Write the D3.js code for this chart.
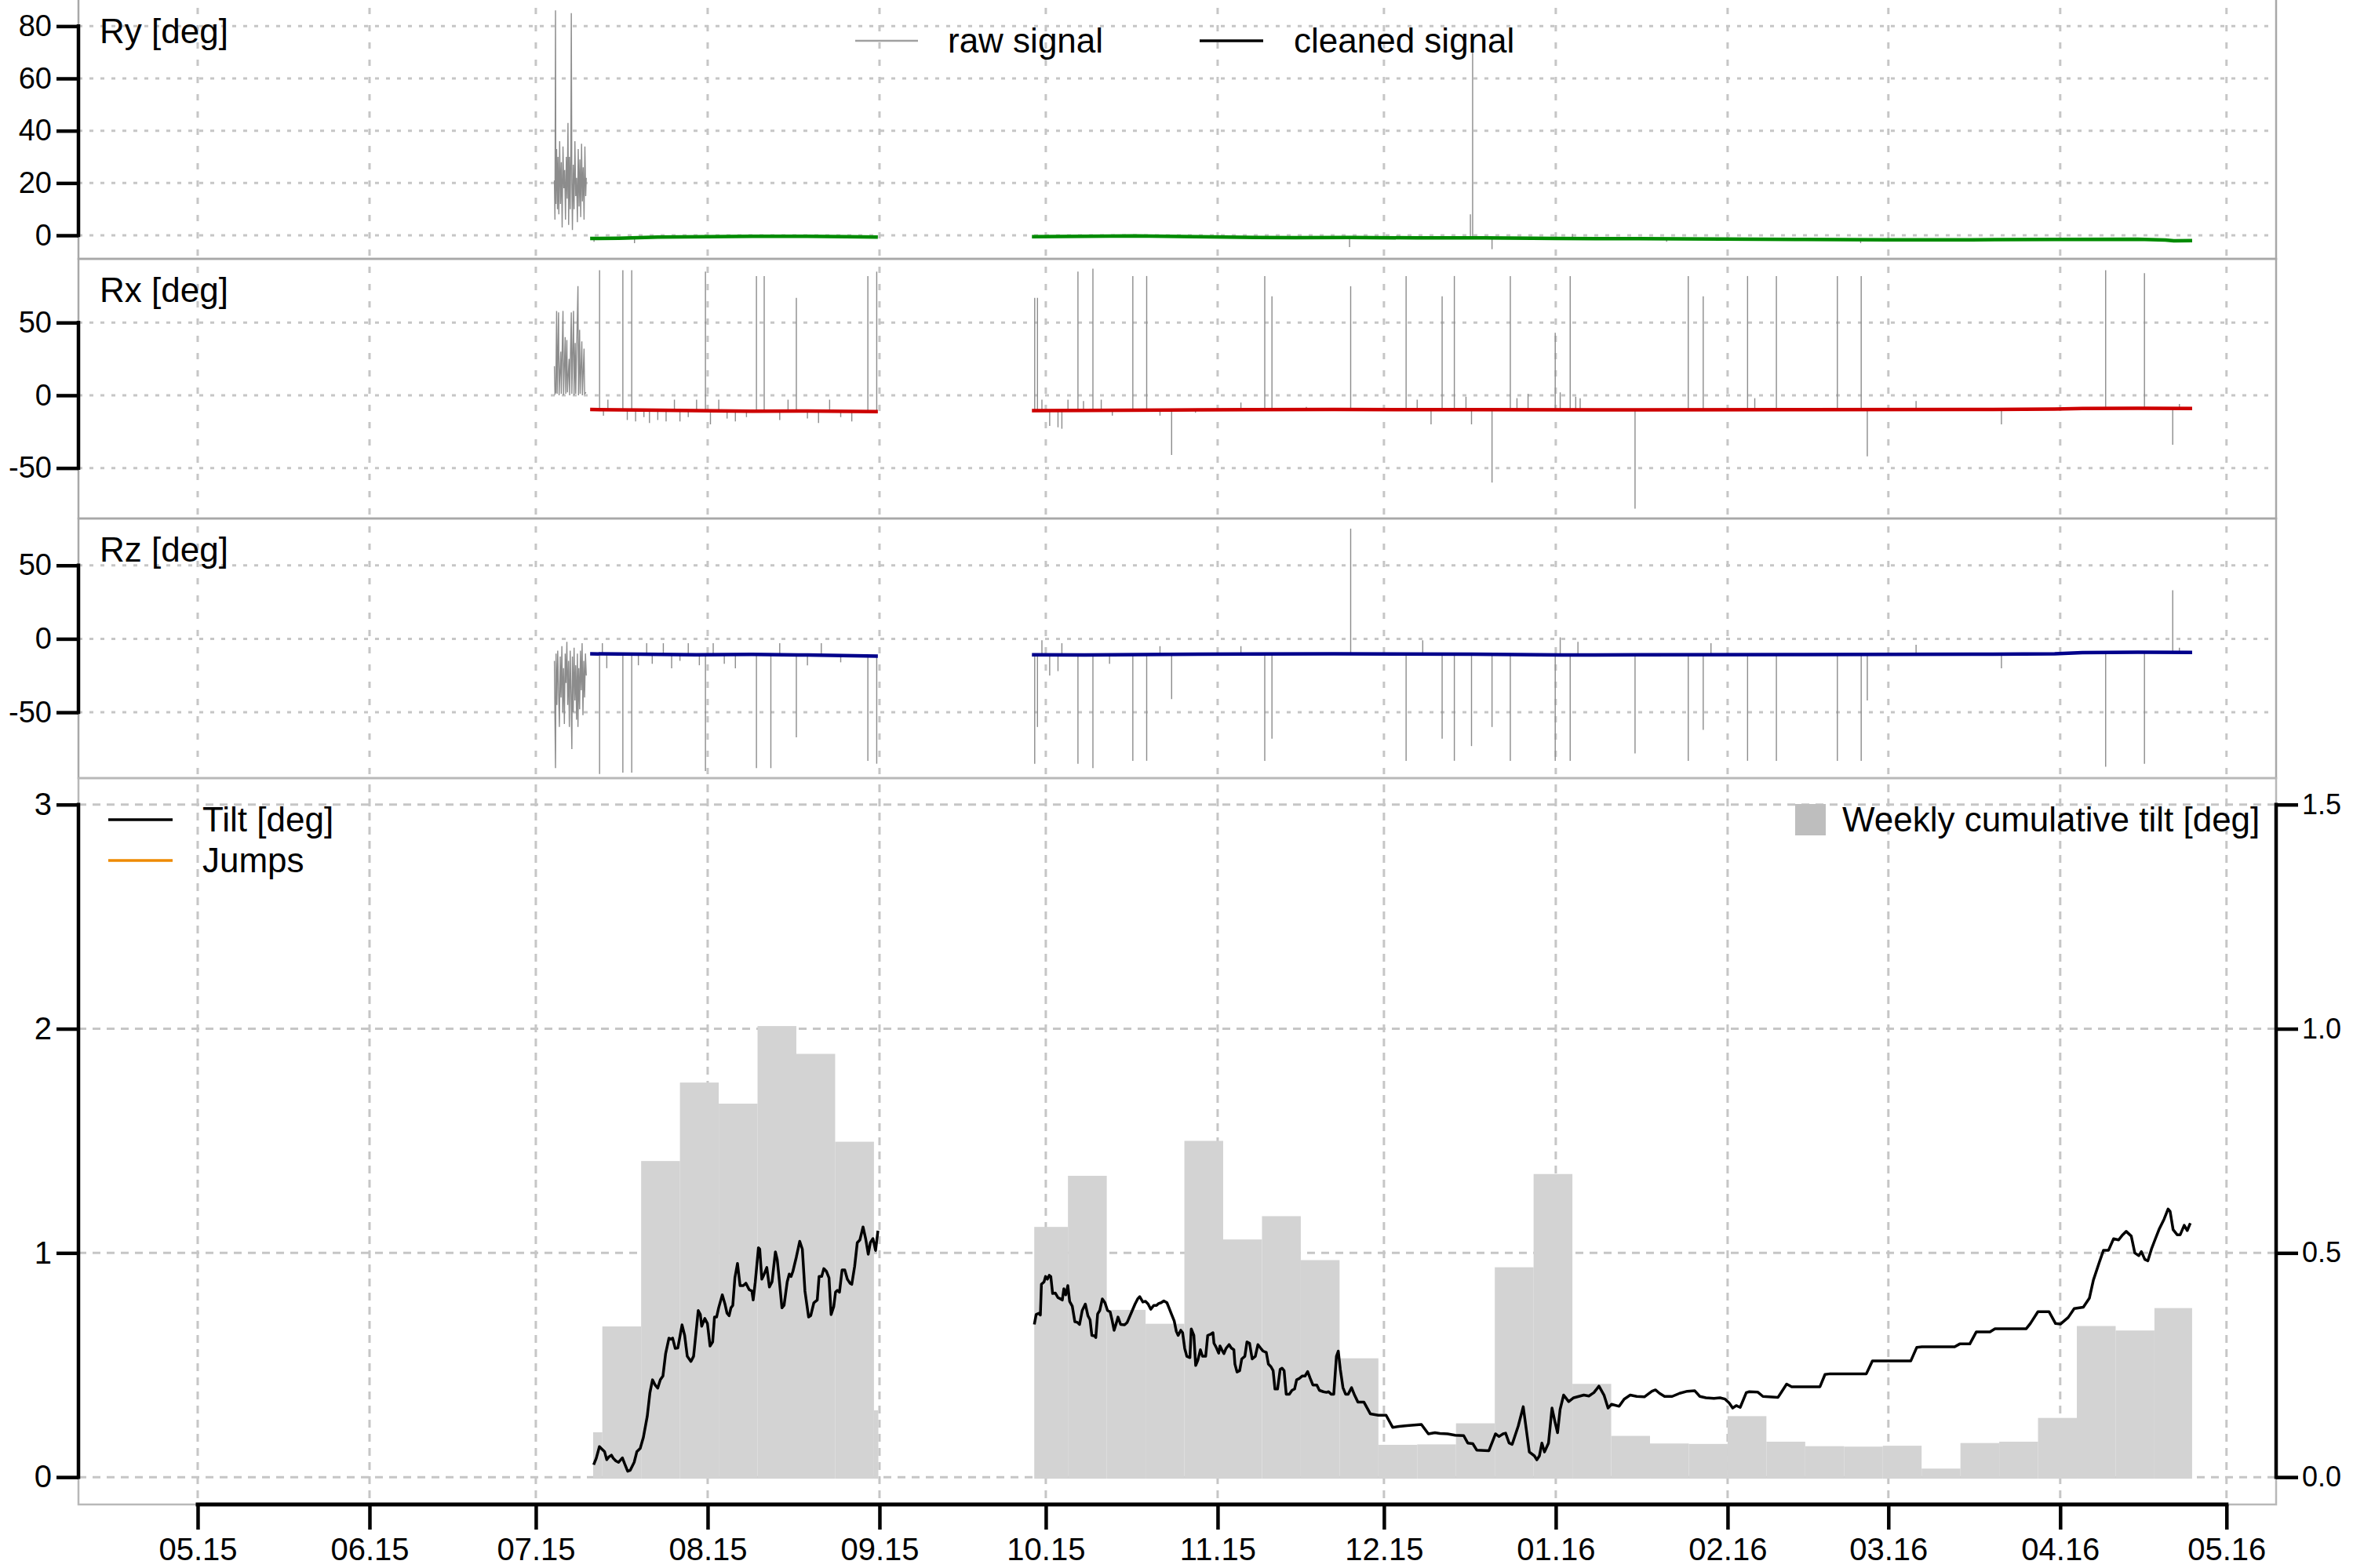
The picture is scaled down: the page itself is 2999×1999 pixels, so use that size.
<!DOCTYPE html>
<html><head><meta charset="utf-8">
<script src="https://cdn.jsdelivr.net/npm/d3@7"></script>
<style>body{margin:0;background:#fff}svg{display:block}text{font-family:"Liberation Sans",Arial,Helvetica,sans-serif}</style>
</head><body><svg id="c" width="2999" height="1999"></svg>
<script>
// ---------- DATA ----------
// time unit: days since 2015-05-01 00:00 UTC (fractional)
const monthTicks = ["2015-05-01","2015-06-01","2015-07-01","2015-08-01","2015-09-01","2015-10-01","2015-11-01","2015-12-01","2016-01-01","2016-02-01","2016-03-01","2016-04-01","2016-05-01"];
const monthLabels = ["05.15","06.15","07.15","08.15","09.15","10.15","11.15","12.15","01.16","02.16","03.16","04.16","05.16"];
const ryTicks = [0,20,40,60,80];
const rxTicks = [-50,0,50];
const rzTicks = [-50,0,50];
const tiltTicks = [0,1,2,3];
const cumTicks = [0,0.5,1.0,1.5];
const cumLabels = ["0.0","0.5","1.0","1.5"];

// raw signal (noisy start)
const ryRawNoise = [[64.35,21],[64.45,6],[64.55,86],[64.62,12],[64.75,33],[64.9,10],[65.0,30],[65.15,8],[65.3,36],[65.45,12],[65.6,28],[65.75,3],[65.9,34],[66.05,18],[66.2,25],[66.35,6],[66.5,30],[66.65,14],[66.8,43],[66.92,4],[67.05,30],[67.2,10],[67.32,34],[67.4,85],[67.5,20],[67.6,2],[67.75,27],[67.9,10],[68.05,36],[68.2,15],[68.35,22],[68.5,5],[68.65,33],[68.8,11],[68.95,29],[69.1,7],[69.25,35],[69.4,13],[69.55,26],[69.7,6],[69.85,34],[70.0,15],[70.1,22]];
const rxRawNoise = [[64.35,20],[64.45,1],[64.6,2],[64.75,58],[64.85,1],[65.1,57],[65.2,0],[65.5,30],[65.6,1],[65.9,58],[66.0,0],[66.3,40],[66.4,1],[66.6,38],[66.7,2],[67.0,25],[67.1,0],[67.4,57],[67.5,1],[67.8,58],[67.9,0],[68.1,36],[68.2,1],[68.6,75],[68.7,0],[68.9,45],[69.0,1],[69.3,37],[69.4,0],[69.7,32],[69.8,1],[70.05,2]];
const rzRawNoise = [[64.35,-15],[64.45,-55],[64.55,-88],[64.65,-10],[64.8,-45],[64.95,-8],[65.1,-35],[65.25,-60],[65.4,-12],[65.55,-40],[65.7,-5],[65.85,-50],[66.0,-20],[66.15,-58],[66.3,-10],[66.45,-30],[66.6,-2],[66.75,-45],[66.9,-15],[67.05,-60],[67.2,-8],[67.35,-38],[67.5,-75],[67.6,-12],[67.75,-50],[67.9,-6],[68.05,-42],[68.2,-18],[68.35,-55],[68.5,-10],[68.6,-60],[68.75,-20],[68.9,-48],[69.05,-8],[69.2,-35],[69.35,-3],[69.5,-52],[69.65,-15],[69.8,-40],[69.95,-10],[70.1,-25]];

// raw signal spikes [day, value]
const rySpikes = [[71.5,-2.5],[78.8,-3],[207.8,-4.5],[229.6,8],[230.0,70],[233.5,-5.3],[248,0.5],[265,-2.5],[300,-3],[340,-1]];
const rxSpikes = [[72.5,86],[73.2,-14],[74.0,-3],[76.7,86],[77.5,-17],[78.3,86],[79.0,-18],[80.5,-15],[81.5,-19],[83,-17],[84.5,-18],[86,-3],[87,-18],[88.5,-15],[90,-3],[91.6,85],[92.5,-20],[94,-3],[95.5,-16],[97,-18],[99,-15],[100.8,82],[102.2,82],[105,-17],[106.5,-3],[108.0,67],[110,-16],[112,-19],[114,-3],[116,-15],[118,-18],[120.9,82],[122.5,85],
 [151.0,67],[151.5,67],[152.3,-3],[153.7,-21],[155.2,-22],[155.9,-23],[157,-3],[158.8,85],[159.8,-4],[161.5,87],[163,-3],[165,-14],[168.7,82],[171.2,82],[173.6,-14],[175.7,-41],[180,-12],[188.2,-5],[192.5,82],[193.8,68],[200,-8],[208.0,75],[218.0,82],[220,-3],[222.5,-20],[224.5,68],[226.7,82],[228.8,-1],[229.8,-20],[233.5,-60],[236.8,82],[238,-2],[240,1],[244.9,43],[245.8,2],[247.6,82],[248.6,-1],[249.4,-2],[259.3,-78],[268.9,82],[271.6,68],[279.6,82],[280.9,-2],[284.8,82],[295.8,82],[300.1,82],[301.2,-42],[310,-4],[325.4,-20],[344.2,86],[351.2,84],[356.3,-34],[357.5,-6]];
const rzSpikes = [[72.5,-92],[73.0,-3],[73.8,-20],[76.7,-91],[78.3,-91],[79.5,-18],[81,-3],[82,-17],[84,-3],[85.5,-20],[87,-15],[88.5,-3],[90.5,-18],[91.6,-90],[93,-3],[95,-17],[97,-20],[100.8,-88],[103.4,-88],[105,-3],[108.0,-67],[110,-18],[112.5,-3],[116,-16],[120.9,-83],[122.5,-85],
 [151.0,-85],[151.5,-60],[152.3,-1],[153.7,-25],[155.2,-22],[155.9,-3],[158.8,-85],[161.5,-88],[164.5,-17],[168.7,-83],[171.2,-83],[173.6,-5],[175.7,-41],[188.2,-5],[192.5,-83],[193.8,-68],[208.0,75],[218.0,-83],[221,-1],[224.5,-68],[226.7,-83],[229.8,-73],[233.5,-60],[236.8,-83],[244.9,-83],[245.8,1],[247.6,-83],[249,-2],[259.3,-78],[268.9,-83],[271.6,-62],[273,-3],[279.6,-83],[284.8,-83],[295.8,-83],[300.1,-83],[301.2,-42],[310,-4],[325.4,-20],[344.2,-87],[351.2,-85],[356.3,33],[357.5,-6]];

// cleaned signals (two segments each)
const ryClean = [[[70.8,-1.2],[76,-1.1],[83,-0.7],[92,-0.5],[100,-0.4],[110,-0.4],[117,-0.5],[122.7,-0.7]],
 [[150.5,-0.5],[160,-0.4],[169,-0.2],[180,-0.5],[191,-0.8],[198,-0.9],[208,-0.8],[220,-1.0],[232,-1.0],[245,-1.2],[260,-1.3],[275,-1.4],[290,-1.6],[305,-1.7],[320,-1.7],[335,-1.6],[350,-1.5],[355,-1.8],[356.5,-2.1],[359.8,-2.0]]];
const rxClean = [[[70.8,-9.8],[80,-10.2],[90,-10.5],[100,-11],[110,-10.8],[122.7,-11.2]],
 [[150.5,-10.5],[160,-10.4],[175,-10.1],[190,-9.9],[205,-9.8],[230,-9.9],[260,-10],[290,-9.9],[320,-9.8],[335,-9.5],[340,-9.1],[350,-8.9],[359.8,-9.0]]];
const rzClean = [[[70.8,-10.2],[80,-10.5],[90,-10.8],[100,-10.6],[110,-11],[122.7,-11.8]],
 [[150.5,-10.8],[160,-11],[175,-10.6],[190,-10.3],[205,-10.2],[230,-10.4],[246,-11],[260,-10.9],[290,-10.7],[320,-10.5],[335,-10.2],[340,-9.4],[350,-9.1],[359.8,-9.2]]];

// tilt [deg]
const tilt1 = [[71.43,0.055],[71.90,0.084],[72.47,0.136],[73.08,0.121],[73.41,0.113],[73.79,0.078],[74.17,0.090],[74.64,0.098],[74.97,0.084],[75.44,0.072],[75.91,0.066],[76.24,0.075],[76.62,0.086],[77.00,0.061],[77.57,0.026],[78.04,0.031],[78.74,0.066],[79.22,0.113],[79.83,0.128],[80.40,0.177],[81.10,0.271],[81.58,0.376],[82.05,0.434],[82.52,0.411],[82.99,0.397],[83.46,0.434],[83.93,0.451],[84.41,0.550],[85.02,0.620],[85.35,0.615],[85.68,0.620],[86.15,0.574],[86.62,0.576],[87.38,0.679],[87.85,0.632],[88.32,0.539],[88.98,0.516],[89.46,0.539],[90.30,0.743],[90.68,0.725],[90.92,0.673],[91.48,0.708],[91.96,0.685],[92.43,0.585],[92.90,0.603],[93.23,0.714],[93.61,0.714],[93.98,0.755],[94.64,0.813],[95.12,0.772],[95.49,0.731],[95.87,0.720],[96.20,0.755],[96.53,0.766],[96.91,0.889],[97.38,0.953],[97.85,0.854],[98.42,0.854],[98.89,0.865],[99.50,0.836],[99.98,0.830],[100.21,0.790],[100.59,0.871],[101.16,1.023],[101.39,1.017],[101.77,0.883],[102.10,0.900],[102.67,0.935],[103.14,0.848],[103.61,0.871],[104.22,1.005],[104.55,0.970],[104.93,0.877],[105.40,0.755],[105.78,0.766],[106.35,0.871],[106.72,0.906],[107.05,0.895],[107.38,0.918],[108.00,0.982],[108.61,1.052],[109.08,1.017],[109.55,0.830],[110.21,0.714],[110.59,0.720],[111.16,0.778],[111.77,0.790],[112.10,0.895],[112.57,0.895],[112.95,0.930],[113.42,0.918],[113.89,0.889],[114.27,0.725],[114.74,0.760],[115.07,0.825],[115.40,0.833],[115.78,0.825],[116.25,0.924],[116.73,0.924],[117.20,0.883],[117.67,0.865],[118.00,0.860],[118.52,0.941],[118.99,1.046],[119.46,1.058],[120.03,1.116],[120.50,1.064],[120.97,0.994],[121.35,1.046],[121.82,1.064],[122.29,1.011],[122.72,1.099]];
const tilt2 = [[150.93,0.681],[151.26,0.725],[151.73,0.731],[152.02,0.723],[152.21,0.860],[152.68,0.871],[152.96,0.895],[153.29,0.883],[153.62,0.900],[153.90,0.895],[154.23,0.819],[154.71,0.821],[155.18,0.801],[155.65,0.795],[155.98,0.790],[156.26,0.840],[156.59,0.813],[156.97,0.854],[157.30,0.784],[157.77,0.763],[158.24,0.693],[158.72,0.690],[159.09,0.681],[159.57,0.743],[160.13,0.772],[160.60,0.720],[160.98,0.702],[161.31,0.632],[161.78,0.630],[162.02,0.623],[162.35,0.728],[162.73,0.743],[163.20,0.795],[163.67,0.778],[164.14,0.743],[164.61,0.737],[164.94,0.702],[165.32,0.655],[165.70,0.685],[166.03,0.714],[166.50,0.681],[167.21,0.679],[167.68,0.690],[168.39,0.731],[169.10,0.772],[169.57,0.795],[169.95,0.805],[170.51,0.781],[170.98,0.784],[171.46,0.772],[171.93,0.749],[172.49,0.766],[172.97,0.766],[173.34,0.774],[173.81,0.778],[174.29,0.786],[174.85,0.778],[175.23,0.755],[175.70,0.725],[176.17,0.696],[176.55,0.650],[176.88,0.632],[177.35,0.655],[177.68,0.644],[178.06,0.574],[178.44,0.539],[179.00,0.533],[179.24,0.661],[179.71,0.632],[180.04,0.498],[180.42,0.521],[180.89,0.568],[181.27,0.539],[181.84,0.539],[182.21,0.632],[182.78,0.638],[183.16,0.644],[183.34,0.597],[183.72,0.580],[184.19,0.553],[184.43,0.585],[184.76,0.568],[185.14,0.551],[185.51,0.574],[186.08,0.591],[186.46,0.576],[186.93,0.568],[187.12,0.504],[187.50,0.469],[187.97,0.475],[188.35,0.527],[188.91,0.539],[189.29,0.603],[189.76,0.597],[190.23,0.527],[190.80,0.539],[191.27,0.591],[191.74,0.576],[192.21,0.562],[192.78,0.556],[193.16,0.504],[193.63,0.492],[194.01,0.475],[194.34,0.393],[194.81,0.393],[195.28,0.481],[195.61,0.486],[195.99,0.475],[196.37,0.370],[196.93,0.370],[197.41,0.387],[197.88,0.393],[198.25,0.434],[198.73,0.440],[199.29,0.451],[199.76,0.451],[200.24,0.471],[200.71,0.440],[201.18,0.411],[201.89,0.411],[202.36,0.387],[203.07,0.381],[203.63,0.378],[204.01,0.381],[204.48,0.370],[204.95,0.370],[205.43,0.539],[205.76,0.562],[206.13,0.481],[206.61,0.399],[207.08,0.370],[207.55,0.370],[208.16,0.399],[208.73,0.364],[209.30,0.335],[210.38,0.335],[211.56,0.282],[212.98,0.276],[214.39,0.276],[215.57,0.222],[216.75,0.226],[218.16,0.230],[220.76,0.235],[222.02,0.193],[223.20,0.198],[224.11,0.195],[225.48,0.193],[226.84,0.187],[228.39,0.185],[229.12,0.152],[230.03,0.149],[230.76,0.120],[232.94,0.118],[234.13,0.193],[234.76,0.181],[235.49,0.193],[235.95,0.196],[236.58,0.152],[237.13,0.146],[238.22,0.227],[239.13,0.314],[240.23,0.112],[241.14,0.095],[241.59,0.077],[242.05,0.095],[242.50,0.152],[242.96,0.112],[243.69,0.152],[244.32,0.308],[244.87,0.245],[245.32,0.198],[245.78,0.302],[246.42,0.366],[247.33,0.337],[248.23,0.354],[249.15,0.360],[250.06,0.366],[250.97,0.362],[251.88,0.377],[252.79,0.406],[253.70,0.366],[254.43,0.308],[255.06,0.325],[256.43,0.316],[257.34,0.348],[258.43,0.366],[259.61,0.360],[260.98,0.358],[262.35,0.383],[262.98,0.389],[263.71,0.374],[264.62,0.360],[265.99,0.360],[267.35,0.374],[268.72,0.383],[270.08,0.385],[270.99,0.360],[272.08,0.354],[273.54,0.351],[274.63,0.354],[275.54,0.348],[276.27,0.331],[276.91,0.308],[277.55,0.319],[278.27,0.311],[279.37,0.377],[279.91,0.381],[281.46,0.379],[282.37,0.360],[285.10,0.356],[286.65,0.415],[287.56,0.403],[292.66,0.403],[293.57,0.458],[294.48,0.461],[301.03,0.461],[302.12,0.518],[309.04,0.518],[310.13,0.579],[311.04,0.581],[316.96,0.581],[317.87,0.594],[319.69,0.594],[320.87,0.648],[323.33,0.648],[324.24,0.662],[329.88,0.662],[330.61,0.685],[331.98,0.738],[333.98,0.738],[335.16,0.685],[336.07,0.683],[337.44,0.712],[338.53,0.752],[340.17,0.758],[341.26,0.798],[341.99,0.879],[343.08,0.960],[343.81,1.012],[344.72,1.012],[345.63,1.063],[346.54,1.058],[347.27,1.081],[347.91,1.096],[348.82,1.075],[349.46,1.000],[350.18,0.988],[350.64,1.006],[351.27,0.971],[351.82,0.965],[352.46,1.017],[353.09,1.058],[353.82,1.104],[354.73,1.150],[355.46,1.196],[355.83,1.185],[356.37,1.104],[357.10,1.081],[357.65,1.081],[358.37,1.123],[358.92,1.100],[359.47,1.133]];

// weekly cumulative tilt [deg]
const barStart = ["2015-07-11T08:00Z","2015-07-13","2015-07-20","2015-07-27","2015-08-03","2015-08-10","2015-08-17","2015-08-24","2015-08-31",
 "2015-09-28T22:00Z","2015-10-05","2015-10-12","2015-10-19","2015-10-26","2015-11-02","2015-11-09","2015-11-16","2015-11-23","2015-11-30","2015-12-07","2015-12-14","2015-12-21","2015-12-28","2016-01-04","2016-01-11","2016-01-18","2016-01-25","2016-02-01","2016-02-08","2016-02-15","2016-02-22","2016-02-29","2016-03-07","2016-03-14","2016-03-21","2016-03-28","2016-04-04","2016-04-11","2016-04-18"];
const barEnd = ["2015-07-13","2015-07-20","2015-07-27","2015-08-03","2015-08-10","2015-08-17","2015-08-24","2015-08-31","2015-08-31T19:00Z",
 "2015-10-05","2015-10-12","2015-10-19","2015-10-26","2015-11-02","2015-11-09","2015-11-16","2015-11-23","2015-11-30","2015-12-07","2015-12-14","2015-12-21","2015-12-28","2016-01-04","2016-01-11","2016-01-18","2016-01-25","2016-02-01","2016-02-08","2016-02-15","2016-02-22","2016-02-29","2016-03-07","2016-03-14","2016-03-21","2016-03-28","2016-04-04","2016-04-11","2016-04-18","2016-04-24T19:00Z"];
const barVals = [0.10,0.336,0.705,0.88,0.833,1.006,0.944,0.748,0.149,
 0.558,0.672,0.373,0.342,0.75,0.53,0.582,0.484,0.265,0.072,0.073,0.12,0.468,0.676,0.208,0.092,0.075,0.074,0.136,0.079,0.069,0.068,0.07,0.019,0.076,0.079,0.132,0.337,0.327,0.377];

// ---------- DRAWING ----------
const BASE = Date.UTC(2015,4,1);
const T = d => new Date(BASE + d*864e5);
const P = s => new Date(s.length===10 ? s+"T00:00:00Z" : s);
const svg = d3.select("#c");
const FONT = '"Liberation Sans",Arial,Helvetica,sans-serif';
const x = d3.scaleUtc().domain([T(-21.51), T(374.95)]).range([100, 2901]);
const GRID = "#c6c6c6";
const plain = d => String(d);

const panels = [
  {key:"ry", top:0, bot:330, dom:[-9,90], ticks:ryTicks, label:"Ry [deg]", raw:ryRawNoise, spikes:rySpikes, clean:ryClean, col:"#008B00"},
  {key:"rx", top:330, bot:661, dom:[-84.7,93.8], ticks:rxTicks, label:"Rx [deg]", raw:rxRawNoise, spikes:rxSpikes, clean:rxClean, col:"#CD0000"},
  {key:"rz", top:661, bot:992, dom:[-94.8,81.9], ticks:rzTicks, label:"Rz [deg]", raw:rzRawNoise, spikes:rzSpikes, clean:rzClean, col:"#00008B"}
];
const monthDates = monthTicks.map(P);

function leftAxis(g, y, ticks, fs){
  g.call(d3.axisLeft(y).tickValues(ticks).tickFormat(plain).tickSize(28).tickPadding(6));
  g.select(".domain").remove();
  g.selectAll(".tick line").attr("stroke","#000").attr("stroke-width",4.5);
  g.selectAll(".tick text").attr("font-size",fs).attr("font-family",FONT).attr("fill","#000");
  g.append("line").attr("x1",0).attr("x2",0).attr("y1",y(d3.min(ticks))).attr("y2",y(d3.max(ticks)))
    .attr("stroke","#000").attr("stroke-width",4.5).attr("stroke-linecap","square");
}

panels.forEach(p=>{
  const y = d3.scaleLinear().domain(p.dom).range([p.bot,p.top]);
  const g = svg.append("g");
  g.selectAll(".hg").data(p.ticks).join("line").attr("x1",100).attr("x2",2901)
    .attr("y1",d=>y(d)).attr("y2",d=>y(d)).attr("stroke",GRID).attr("stroke-width",3).attr("stroke-dasharray","5 9");
  g.selectAll(".vg").data(monthDates).join("line").attr("x1",d=>x(d)).attr("x2",d=>x(d))
    .attr("y1",p.top+10).attr("y2",p.bot).attr("stroke",GRID).attr("stroke-width",3).attr("stroke-dasharray","8 14");
  const line = d3.line().x(d=>x(T(d[0]))).y(d=>y(d[1]));
  g.append("path").attr("d",line(p.raw)).attr("fill","none").attr("stroke","#8c8c8c").attr("stroke-width",1.4);
  const allClean = p.clean[0].concat(p.clean[1]);
  const baseAt = d3.scaleLinear().domain(allClean.map(d=>d[0])).range(allClean.map(d=>d[1])).clamp(true);
  g.selectAll(".sp").data(p.spikes).join("line")
    .attr("x1",d=>x(T(d[0]))).attr("x2",d=>x(T(d[0])))
    .attr("y1",d=>y(baseAt(d[0]))).attr("y2",d=>y(d[1]))
    .attr("stroke","#8c8c8c").attr("stroke-width",1.4);
  p.clean.forEach(seg=>{
    g.append("path").attr("d",line(seg)).attr("fill","none").attr("stroke",p.col).attr("stroke-width",4.5).attr("stroke-linejoin","round");
  });
  const ft = p.key==="ry" ? -4 : p.top;
  g.append("rect").attr("x",100).attr("y",ft).attr("width",2801).attr("height",p.bot-ft)
    .attr("fill","none").attr("stroke","#a8a8a8").attr("stroke-width",2.5);
  leftAxis(g.append("g").attr("transform","translate(100,0)"), y, p.ticks, 38);
  g.append("text").attr("x",127).attr("y",p.top+55).attr("font-size",44).attr("fill","#000").text(p.label);
});

// Ry legend
svg.append("line").attr("x1",1090).attr("x2",1170).attr("y1",52).attr("y2",52).attr("stroke","#a0a0a0").attr("stroke-width",2.5);
svg.append("text").attr("x",1208).attr("y",52).attr("dy","0.35em").attr("font-size",44).text("raw signal");
svg.append("line").attr("x1",1529).attr("x2",1610).attr("y1",52).attr("y2",52).attr("stroke","#000").attr("stroke-width",3.5);
svg.append("text").attr("x",1649).attr("y",52).attr("dy","0.35em").attr("font-size",44).text("cleaned signal");

// ---------- bottom panel ----------
const yT = d3.scaleLinear().domain([-0.122,3.118]).range([1918,992]);
const yC = d3.scaleLinear().domain([-0.061,1.559]).range([1918,992]);
const gb = svg.append("g");
gb.selectAll(".hg").data(tiltTicks).join("line").attr("x1",100).attr("x2",2901)
  .attr("y1",d=>yT(d)).attr("y2",d=>yT(d)).attr("stroke",GRID).attr("stroke-width",3).attr("stroke-dasharray","10 8");
gb.selectAll(".vg").data(monthDates).join("line").attr("x1",d=>x(d)).attr("x2",d=>x(d))
  .attr("y1",1000).attr("y2",1918).attr("stroke",GRID).attr("stroke-width",3).attr("stroke-dasharray","10 8");
gb.selectAll(".bar").data(barVals).join("rect")
  .attr("x",(d,i)=>x(P(barStart[i]))).attr("width",(d,i)=>x(P(barEnd[i]))-x(P(barStart[i])))
  .attr("y",d=>yC(d)).attr("height",d=>yC(0)-yC(d)+2).attr("fill","#d3d3d3");
const tl = d3.line().x(d=>x(T(d[0]))).y(d=>yT(d[1]));
[tilt1,tilt2].forEach(s=>gb.append("path").attr("d",tl(s)).attr("fill","none").attr("stroke","#000").attr("stroke-width",3.5).attr("stroke-linejoin","round"));
gb.append("rect").attr("x",100).attr("y",992).attr("width",2801).attr("height",926).attr("fill","none").attr("stroke","#b8b8b8").attr("stroke-width",2.5);
leftAxis(gb.append("g").attr("transform","translate(100,0)"), yT, tiltTicks, 40);
const gr = gb.append("g").attr("transform","translate(2901,0)");
gr.call(d3.axisRight(yC).tickValues(cumTicks).tickFormat((d,i)=>cumLabels[i]).tickSize(28).tickPadding(5));
gr.select(".domain").remove();
gr.selectAll(".tick line").attr("stroke","#000").attr("stroke-width",4.5);
gr.selectAll(".tick text").attr("font-size",36).attr("font-family",FONT).attr("fill","#000");
gr.append("line").attr("x1",0).attr("x2",0).attr("y1",yC(0)).attr("y2",yC(1.5)).attr("stroke","#000").attr("stroke-width",4.5).attr("stroke-linecap","square");
const gx = svg.append("g").attr("transform","translate(0,1918)");
gx.call(d3.axisBottom(x).tickValues(monthDates).tickFormat((d,i)=>monthLabels[i]).tickSize(32).tickPadding(11));
gx.select(".domain").remove();
gx.selectAll(".tick line").attr("stroke","#000").attr("stroke-width",4.5);
gx.selectAll(".tick text").attr("font-size",40).attr("font-family",FONT).attr("fill","#000");
gx.append("line").attr("x1",x(monthDates[0])).attr("x2",x(monthDates[12])).attr("y1",0).attr("y2",0).attr("stroke","#000").attr("stroke-width",5).attr("stroke-linecap","square");
// legends
svg.append("line").attr("x1",138).attr("x2",220).attr("y1",1045).attr("y2",1045).attr("stroke","#000").attr("stroke-width",3.5);
svg.append("text").attr("x",258).attr("y",1045).attr("dy","0.35em").attr("font-size",44).text("Tilt [deg]");
svg.append("line").attr("x1",138).attr("x2",220).attr("y1",1097).attr("y2",1097).attr("stroke","#EE8A00").attr("stroke-width",3.5);
svg.append("text").attr("x",258).attr("y",1097).attr("dy","0.35em").attr("font-size",44).text("Jumps");
svg.append("rect").attr("x",2288).attr("y",1025).attr("width",39).attr("height",40).attr("fill","#bebebe");
svg.append("text").attr("x",2348).attr("y",1045).attr("dy","0.35em").attr("font-size",44).text("Weekly cumulative tilt [deg]");
</script></body></html>
